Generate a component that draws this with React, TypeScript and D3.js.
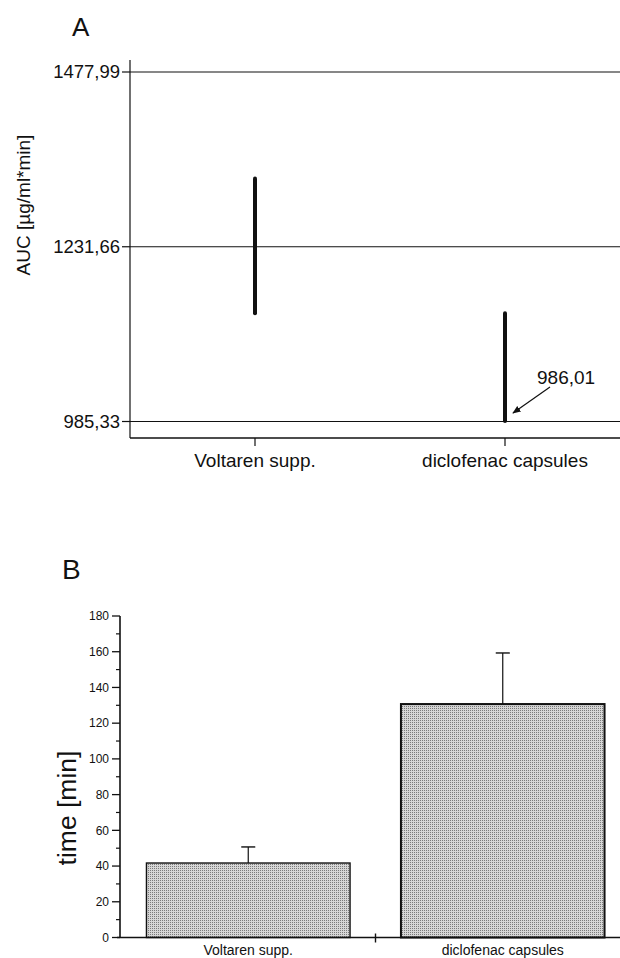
import React from 'react';
import { scaleBand, scaleLinear, range } from 'd3';

const categories = ['Voltaren supp.', 'diclofenac capsules'];

// panel A: AUC confidence intervals
const aucTicks = [985.33, 1231.66, 1477.99];
const aucLow = [1138, 986.01];
const aucHigh = [1328, 1138];
const aucNote = 986.01;

// panel B: time, mean + SD
const timeMean = [41.7, 130.7];
const timeSd = [9.0, 28.6];
const timeTicks = [0, 20, 40, 60, 80, 100, 120, 140, 160, 180];

const width = 620;
const height = 958;
const font = '"Liberation Sans", Arial, sans-serif';
const ink = '#111';

const fmt = (v: number) => v.toFixed(2).replace('.', ',');

const PanelA = () => {
  const x = scaleBand().domain(categories).range([130, 630]);
  const y = scaleLinear().domain([aucTicks[0], aucTicks[2]]).range([421.5, 72]);
  const axisBottom = 438;
  const axisLeft = 130;

  const noteX = (x(categories[1]) as number) + x.bandwidth() / 2;
  const noteY = y(aucNote);

  return (
    <g>
      <text x={72} y={36} fontSize={26} fontFamily={font} fill={ink}>A</text>

      {aucTicks.map(t => (
        <g key={t}>
          <line x1={axisLeft} x2={width} y1={y(t)} y2={y(t)} stroke={ink} strokeWidth={1.2} />
          <line x1={axisLeft - 8} x2={axisLeft} y1={y(t)} y2={y(t)} stroke={ink} strokeWidth={1.2} />
          <text x={axisLeft - 10} y={y(t)} dy=".35em" textAnchor="end" fontSize={18.5} fontFamily={font} fill={ink}>
            {fmt(t)}
          </text>
        </g>
      ))}

      <line x1={axisLeft} x2={axisLeft} y1={60} y2={axisBottom} stroke={ink} strokeWidth={1.2} />
      <line x1={axisLeft} x2={width} y1={axisBottom} y2={axisBottom} stroke={ink} strokeWidth={1.4} />

      {categories.map((c, i) => {
        const cx = (x(c) as number) + x.bandwidth() / 2;
        return (
          <g key={c}>
            <line x1={cx} x2={cx} y1={axisBottom} y2={axisBottom + 8} stroke={ink} strokeWidth={1.2} />
            <text x={cx} y={467} textAnchor="middle" fontSize={19} fontFamily={font} fill={ink}>{c}</text>
            <line x1={cx} x2={cx} y1={y(aucHigh[i])} y2={y(aucLow[i])} stroke={ink} strokeWidth={4} strokeLinecap="round" />
          </g>
        );
      })}

      <defs>
        <marker id="arr" viewBox="0 0 10 10" refX={9} refY={5} markerWidth={7} markerHeight={7} orient="auto">
          <path d="M0,1 L10,5 L0,9 z" fill={ink} />
        </marker>
      </defs>
      <line x1={noteX + 45} y1={noteY - 34} x2={noteX + 8} y2={noteY - 8} stroke={ink} strokeWidth={1.2} markerEnd="url(#arr)" />
      <text x={noteX + 32} y={noteY - 37} fontSize={19} fontFamily={font} fill={ink}>{fmt(aucNote)}</text>

      <text transform={`translate(30, 205) rotate(-90)`} textAnchor="middle" fontSize={19} fontFamily={font} fill={ink}>
        AUC [µg/ml*min]
      </text>
    </g>
  );
};

const PanelB = () => {
  const x = scaleBand().domain(categories).range([121, 630]).paddingInner(0.2).paddingOuter(0.1);
  const y = scaleLinear().domain([0, 180]).range([937.5, 616]);
  const axisLeft = 120;
  const base = y(0);

  return (
    <g>
      <text x={62} y={579} fontSize={28} fontFamily={font} fill={ink}>B</text>

      <defs>
        <pattern id="dots" width={2} height={2} patternUnits="userSpaceOnUse">
          <rect width={2} height={2} fill="#d6d6d6" />
          <rect width={1} height={1} fill="#7a7a7a" />
        </pattern>
      </defs>

      {categories.map((c, i) => {
        const bx = x(c) as number;
        const cx = bx + x.bandwidth() / 2;
        return (
          <g key={c}>
            <rect x={bx} y={y(timeMean[i])} width={x.bandwidth()} height={base - y(timeMean[i])}
              fill="url(#dots)" stroke={ink} strokeWidth={i === 1 ? 2 : 1.4} />
            <line x1={cx} x2={cx} y1={y(timeMean[i])} y2={y(timeMean[i] + timeSd[i])} stroke={ink} strokeWidth={1.2} />
            <line x1={cx - 7} x2={cx + 7} y1={y(timeMean[i] + timeSd[i])} y2={y(timeMean[i] + timeSd[i])} stroke={ink} strokeWidth={1.4} />
            <text x={cx} y={955} textAnchor="middle" fontSize={14} fontFamily={font} fill={ink}>{c}</text>
          </g>
        );
      })}

      <line x1={axisLeft} x2={axisLeft} y1={y(180)} y2={base} stroke={ink} strokeWidth={1.6} />
      <line x1={axisLeft - 3} x2={width} y1={base} y2={base} stroke={ink} strokeWidth={1.6} />
      {(() => {
        const mid = (x(categories[1]) as number) - (x.step() * x.paddingInner()) / 2;
        return <line x1={mid} x2={mid} y1={base - 4} y2={base + 5} stroke={ink} strokeWidth={1.4} />;
      })()}

      {range(10, 180, 20).map(t => (
        <line key={t} x1={axisLeft - 4} x2={axisLeft} y1={y(t)} y2={y(t)} stroke={ink} strokeWidth={1.2} />
      ))}
      {timeTicks.map(t => (
        <g key={t}>
          <line x1={axisLeft - 8} x2={axisLeft} y1={y(t)} y2={y(t)} stroke={ink} strokeWidth={1.3} />
          <text x={axisLeft - 11} y={y(t)} dy=".35em" textAnchor="end" fontSize={12} fontFamily={font} fill={ink}>{t}</text>
        </g>
      ))}

      <text transform={`translate(76, 808) rotate(-90)`} textAnchor="middle" fontSize={26.5} fontFamily={font} fill={ink}>
        time [min]
      </text>
    </g>
  );
};

const App = () => (
  <svg width={width} height={height} style={{ position: 'absolute', left: 0, top: 0, background: '#fff' }}>
    <rect width={width} height={height} fill="#fff" />
    <PanelA />
    <PanelB />
  </svg>
);

export default App;
